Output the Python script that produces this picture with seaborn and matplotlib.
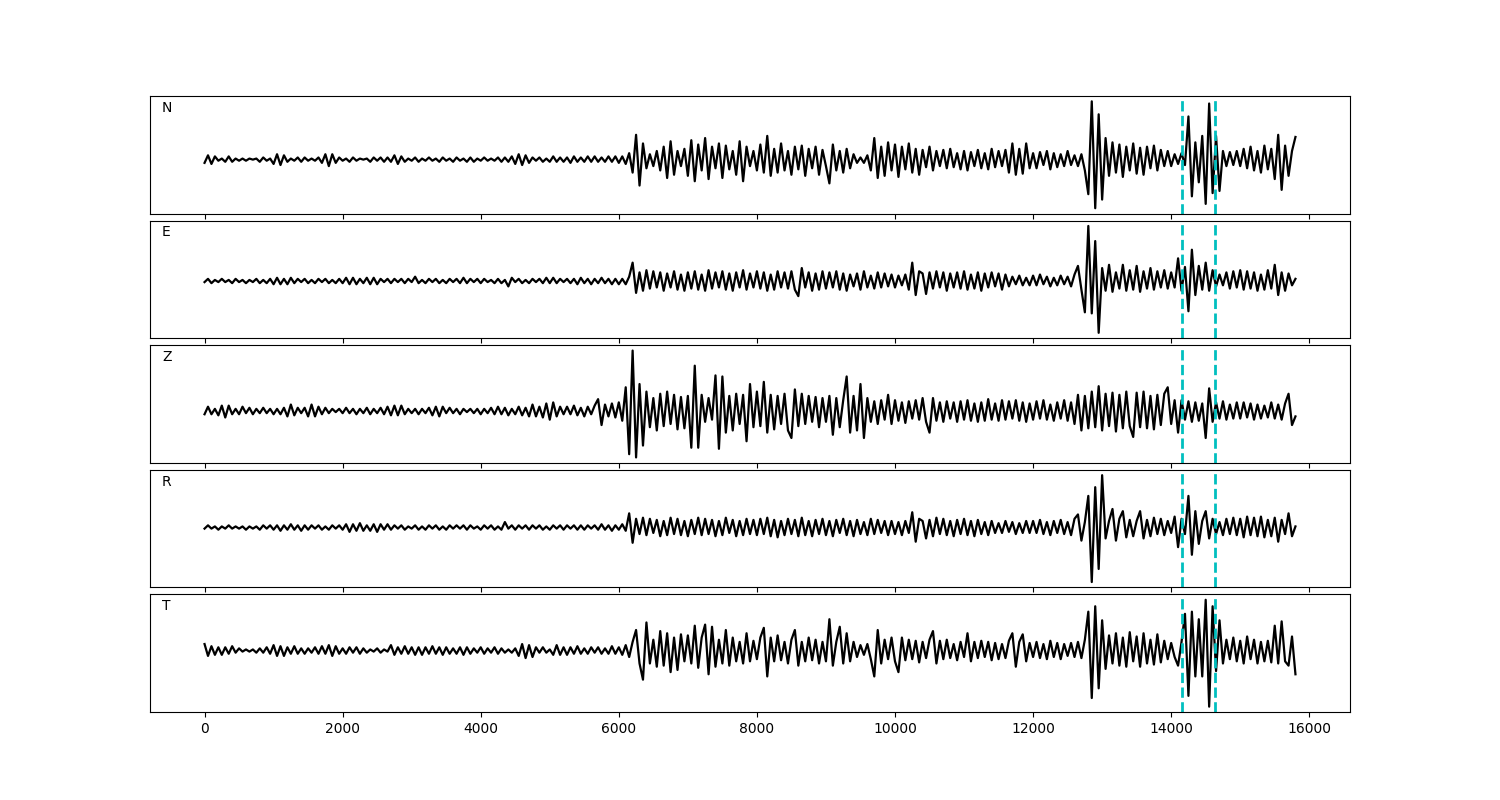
import numpy as np
import pandas as pd
import matplotlib
matplotlib.use('Agg')
import matplotlib.pyplot as plt
import seaborn as sns

# sample spacing of the traces (one value every 50 samples)
step = 50

# component names
components = ['N', 'E', 'Z', 'R', 'T']

# picked phase times (dashed lines)
picks = [14150, 14640]

# trace amplitudes (arbitrary units)
trace_N = [
    -3, 4, -4, 3, -1, 1, -2, 3, -2, 1, -1, 1, -1, 1, 0, 1, -2, 2, -1, 1,
    -4, 5, -5, 4, -2, 1, -1, 2, -2, 2, -1, 1, -1, 2, -3, 5, -6, 5, -3, 2,
    -1, 1, -2, 2, -1, 1, 0, 1, -2, 2, -1, 2, -2, 2, -2, 4, -4, 3, -2, 1,
    -1, 2, -2, 1, -1, 2, -1, 1, -2, 2, -1, 1, -2, 2, -1, 1, -2, 2, -2, 1,
    -1, 2, -1, 1, -1, 2, -2, 2, -2, 3, -4, 5, -5, 4, -3, 2, -1, 2, -2, 1,
    -2, 3, -2, 2, -2, 2, -3, 3, -2, 2, -2, 3, -2, 3, -2, 2, -2, 3, -2, 3,
    -3, 3, -4, 6, -12, 23, -24, 15, -8, 5, -6, 8, -10, 12, -17, 17, -14, 8, -6, 10,
    -15, 18, -20, 14, -10, 20, -18, 12, -8, 15, -17, 13, -9, 8, -14, 17, -20, 12, -6, 8,
    -10, 14, -12, 22, -15, 10, -12, 15, -10, 8, -14, 12, -9, 13, -15, 10, -8, 12, -14, 9,
    -6, -22, 14, -10, 8, -12, 10, -8, 5, -3, 2, -3, 4, -10, 20, -17, 12, -15, 16, -10,
    14, -16, 12, -9, 15, -12, 10, -14, 9, -7, 12, -10, 8, -6, 9, -8, 10, -7, 6, -9,
    8, -10, 7, -6, 9, -8, 6, -9, 10, -7, 8, -6, 9, -12, 15, -14, 10, -13, 15, -8,
    6, -8, 7, -5, 8, -9, 6, -7, 5, -6, 8, -5, 4, -6, 5, -10, -32, 54, -45, 42,
    -37, 20, -15, 16, -12, 14, -16, 12, -10, 15, -13, 11, -14, 12, -8, 13, -10, 9, -6, 8,
    -6, 5, -4, 6, -5, 40, -34, 16, -21, 22, -41, 52, -31, 22, -29, 8, -6, 7, -5, 8,
    -6, 10, -8, 12, -10, 8, -12, 13, -9, 10, -18, 23, -28, 13, -15, 8, 21,
]

trace_E = [
    -1, 2, -2, 1, -1, 2, -1, 1, -2, 2, -1, 1, -2, 1, -1, 2, -2, 1, -2, 2,
    -3, 3, -3, 2, -3, 3, -2, 2, -1, 2, -2, 1, -2, 2, -1, 2, -2, 1, -2, 2,
    -2, 3, -3, 3, -3, 2, -2, 3, -3, 3, -3, 2, -1, 2, -2, 2, -1, 2, -2, 2,
    -1, 4, -2, 1, -2, 2, -1, 2, -2, 1, -2, 2, -1, 2, -2, 3, -2, 2, -1, 2,
    -2, 2, -1, 1, -2, 2, -2, 1, -5, 3, -1, 2, -2, 1, -2, 2, -1, 2, -2, 3,
    -2, 3, -2, 2, -1, 2, -2, 2, -3, 3, -2, 2, -3, 2, -2, 3, -2, 2, -3, 2,
    -3, 2, -3, 4, 17, -11, 8, -9, 10, -7, 9, -6, 8, -9, 7, -6, 9, -8, 6, -9,
    8, -7, 9, -8, 6, -9, 10, -7, 8, -6, 9, -8, 7, -9, 8, -6, 10, -8, 7, -6,
    9, -7, 8, -9, 6, -8, 9, -6, 8, -7, 9, -8, -14, 12, -6, 8, -9, 7, -8, 9,
    -7, 8, -6, 9, -8, 7, -9, 6, -5, 7, -8, 9, -6, 5, -7, 8, -6, 7, -5, 6,
    -6, 5, -4, 6, -8, 17, -13, 9, 7, -12, 8, -7, 9, -6, 8, -9, 7, -6, 8, -7,
    9, -8, 6, -7, 8, -9, 7, -6, 8, -5, 7, -8, 6, -5, 4, -3, 5, -4, 3, -4,
    5, -4, 6, -3, 4, -5, 3, -4, 5, -3, 4, -5, 6, 14, -8, -29, 51, -30, 37, -48,
    12, -9, 15, -10, 8, -7, 15, -9, 10, -8, 14, -10, 9, -7, 12, -8, 9, -6, 10, -7,
    8, -6, 21, -9, 13, -28, 29, -13, 14, -8, 17, -9, 10, -5, 6, -4, 8, -7, 9, -6,
    10, -8, 9, -7, 8, -9, 6, -8, 10, -7, 15, -13, 8, -9, 7, -4, 2,
]

trace_Z = [
    -3, 4, -3, 2, -4, 5, -6, 5, -3, 2, -3, 4, -2, 3, -3, 2, -2, 3, -2, 2,
    -3, 2, -3, 3, -5, 6, -4, 3, -2, 3, -5, 6, -5, 4, -3, 3, -2, 2, -1, 2,
    -2, 3, -2, 2, -3, 2, -2, 3, -3, 2, -2, 3, -3, 4, -4, 5, -4, 5, -3, 2,
    -2, 2, -3, 2, -2, 3, -4, 4, -5, 4, -2, 3, -2, 2, -3, 2, -1, 2, -2, 2,
    -3, 2, -2, 3, -3, 4, -3, 3, -4, 2, -3, 4, -4, 3, -5, 6, -5, 4, -6, 7,
    -8, 8, -5, 4, -3, 4, -3, 5, -4, 3, -5, 4, -3, 5, 11, -13, 6, -5, 7, -6,
    8, -9, 22, -40, 56, -43, 25, -32, 18, -15, 12, -18, 16, -14, 18, -12, 15, -17, 13, -16,
    14, -34, 42, -34, 15, -10, 12, -8, 33, -35, 32, -20, 14, -18, 16, -12, 15, -28, 25, -15,
    18, -14, 27, -20, 15, -17, 14, -12, 16, -18, -25, 20, -14, 16, -12, 14, -10, 13, -15, 12,
    -10, 14, -22, 12, -15, 10, 32, -20, 14, -18, 25, -25, 12, -10, 9, -12, 10, -8, 15, -12,
    10, -9, 8, -11, 9, -7, 10, -8, 12, -10, -20, 12, -9, 8, -10, 9, -7, 8, -10, 9,
    -8, 10, -9, 7, -10, 8, -9, 11, -8, 7, -9, 10, -8, 9, -7, 10, -9, 8, -10, 7,
    -8, 9, -7, 10, -8, 6, -9, 8, -7, 10, -9, 8, -12, 15, -18, 14, -16, 18, -15, 23,
    -18, 16, -14, 17, -19, 15, -16, 18, -14, -24, 17, -15, 18, -16, 14, -17, 15, -13, 16, 22,
    -12, 10, -20, 10, -8, 9, -10, 8, -9, 7, -25, 21, -10, 8, -7, 9, -8, 6, -7, 8,
    -7, 8, -6, 7, -8, 6, -7, 5, -6, 8, -7, 6, -8, 7, 16, -13, -5,
]

trace_R = [
    -1, 2, -1, 1, -2, 1, -1, 2, -1, 1, -1, 1, -2, 1, -1, 1, -2, 2, -1, 2,
    -2, 2, -3, 2, -2, 3, -2, 2, -3, 2, -2, 2, -1, 2, -2, 1, -2, 2, -1, 2,
    -2, 3, -4, 3, -3, 4, -3, 2, -3, 3, -4, 3, -2, 3, -2, 2, -1, 2, -2, 1,
    -1, 2, -2, 1, -2, 2, -1, 2, -2, 1, -2, 2, -1, 2, -1, 2, -2, 2, -1, 1,
    -2, 2, -1, 2, -2, 1, -2, 5, -1, 2, -2, 2, -1, 2, -2, 2, -1, 2, -2, 1,
    -2, 2, -1, 2, -2, 2, -1, 2, -2, 2, -2, 2, -1, 2, -2, 3, -2, 2, -3, 2,
    -2, 3, -3, 13, -14, 8, -6, 9, -7, 8, -5, 7, -8, 6, -7, 9, -6, 8, -7, 6,
    -8, 7, -6, 9, -7, 8, -6, 7, -8, 6, -7, 9, -5, 7, -8, 6, -7, 8, -6, 7,
    -7, 8, -6, 9, -8, 7, -9, 6, -7, 8, -6, 7, -8, 9, -7, 6, -8, 7, -6, 8,
    -7, 6, -8, 7, -5, 8, -7, 6, -8, 7, -6, 5, -7, 8, -6, 7, -5, 6, -7, 6,
    -6, 5, -7, 6, -5, 14, -13, 8, 6, -10, 7, -8, 9, -6, 8, -7, 6, -8, 7, -6,
    8, -7, 6, -8, 7, -6, 5, -7, 6, -5, 4, -5, 6, -4, 5, -6, 4, -5, 6, -5,
    6, -5, 7, -6, 5, -7, 6, -5, 7, -6, 5, -7, 8, 12, -12, 5, 29, -50, 37, -38,
    48, -10, 6, 17, -12, 8, 15, -9, 7, -8, 6, 15, -10, 7, -8, 9, -6, 8, -7, 6,
    -5, 10, -18, 8, -6, 29, -25, 15, -15, 6, 15, -10, 8, -6, 5, -7, 8, -6, 9, -7,
    8, -9, 10, -7, 9, -8, 10, -9, 7, -8, 9, -13, 7, -6, 13, -8, 1,
]

trace_T = [
    6, -5, 4, -4, 3, -4, 3, -3, 4, -2, 2, -1, 1, -1, 1, -2, 2, -2, 3, -3,
    5, -5, 4, -5, 3, -3, 4, -3, 2, -3, 2, -2, 3, -3, 4, -3, 5, -5, 4, -3,
    2, -3, 3, -2, 3, -3, 2, -2, 1, -1, 2, -2, 1, -1, 5, -4, 3, -3, 4, -3,
    3, -4, 3, -4, 3, -3, 4, -3, 3, -4, 3, -3, 2, -3, 3, -4, 3, -3, 2, -2,
    3, -3, 2, -2, 3, -3, 2, -2, 1, -2, 2, -5, 6, -7, 5, -6, 3, -2, 3, -2,
    1, -4, 5, -4, 3, -4, 3, -3, 4, -3, 2, -3, 3, -2, 3, -3, 2, -3, 4, -3,
    3, -4, 5, -6, 8, 19, -12, -27, 26, -12, 10, -15, 18, -14, 16, -20, 12, -18, 15, -10,
    14, -12, 23, -16, 12, 24, -22, 22, -15, 10, -12, 19, -14, 12, -10, 8, -12, 16, -10, 9,
    -8, 12, 21, -24, 12, -10, 14, -9, 8, -12, 10, 19, -14, 8, -10, 12, -9, 10, -12, 8,
    -10, 29, -14, 8, 22, -12, 16, -10, 8, -6, 5, -4, 6, -8, -24, 19, -12, 10, -8, 12,
    -10, -20, 12, -9, 10, -8, 9, -11, 8, -7, 10, 18, -12, 9, -8, 10, -7, 6, -9, 8,
    -6, 16, -10, 8, -7, 9, -6, 8, -9, 7, -8, 6, -7, 9, 16, -15, 8, 15, -10, 7,
    -6, 8, -7, 6, -8, 9, -6, 7, -8, 6, -5, 7, -6, 8, -7, 10, 36, -44, 41, -35,
    28, -17, 14, -12, 16, -14, 12, -15, 17, -10, 13, -15, 16, -12, 10, -13, 15, -11, 9, -8,
    7, -6, -14, 8, 34, -42, 36, -24, 29, -24, 47, -52, 41, -19, 28, -12, 10, -8, 12, -10,
    9, -12, 13, -8, 10, -12, 8, -10, 9, -11, 23, -12, 27, -10, -14, 13, -22,
]

traces = [trace_N, trace_E, trace_Z, trace_R, trace_T]

fig, axes = plt.subplots(5, 1, figsize=(15, 8), dpi=100, sharex=True)
fig.subplots_adjust(left=0.1, right=0.9, top=0.88, bottom=0.11, hspace=0.06)

for ax, name, values in zip(axes, components, traces):
    df = pd.DataFrame({'time': np.arange(len(values)) * step, 'amp': values})
    sns.lineplot(data=df, x='time', y='amp', ax=ax, color='black',
                 linewidth=1.6, estimator=None, sort=False)
    for p in picks:
        ax.axvline(p, color='c', linestyle='--', linewidth=2)
    # component label in the upper left corner
    ax.text(0.01, 0.9, name, transform=ax.transAxes, fontsize=10,
            ha='left', va='center')
    ax.set_yticks([])
    ax.set_xlabel('')
    ax.set_ylabel('')

axes[-1].set_xticks(np.arange(0, 16001, 2000))

plt.savefig('out.png')
